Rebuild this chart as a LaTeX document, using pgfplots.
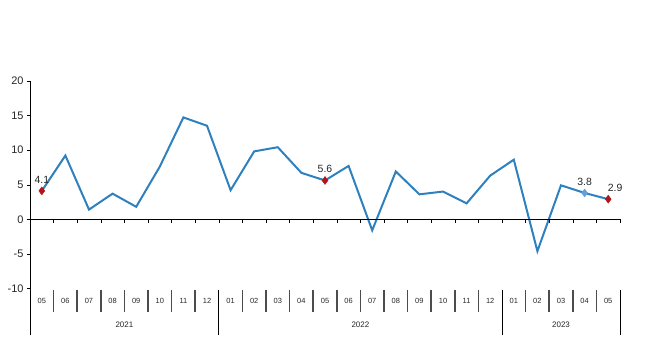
\documentclass[border=0pt]{standalone}
\usepackage{fontspec}
\setmainfont{Liberation Sans}
\usepackage{pgfplots}
\pgfplotsset{compat=1.18}
\definecolor{lineblue}{RGB}{46,128,190}
\definecolor{mred}{RGB}{178,20,28}
\definecolor{mlblue}{RGB}{100,160,220}
\begin{document}
\begin{tikzpicture}
\begin{axis}[
  scale only axis, width=590bp, height=254.3bp,
  at={(0,0)}, anchor=south west,
  xmin=-0.5, xmax=24.5, ymin=-16.7, ymax=20,
  axis x line=none, axis y line=left,
  y axis line style={-, black},
  ytick={-10,-5,0,5,10,15,20},
  tick align=outside, major tick length=3bp,
  ytick style={black},
  yticklabel style={font=\fontsize{11}{13}\selectfont, text=black!85},
  /pgf/number format/assume math mode=true,
  /pgf/number format/fixed, /pgf/number format/precision=1,
  clip=false,
]
\addplot[lineblue, line width=2bp, mark=none] coordinates {
(0,4.1) (1,9.2) (2,1.4) (3,3.7) (4,1.8) (5,7.6) (6,14.7) (7,13.5)
(8,4.2) (9,9.8) (10,10.4) (11,6.7) (12,5.6) (13,7.7) (14,-1.6) (15,6.9)
(16,3.6) (17,4.0) (18,2.3) (19,6.3) (20,8.6) (21,-4.6) (22,4.9) (23,3.8) (24,2.9)};
\addplot[only marks, mark=diamond*, mark size=4bp, color=mred,
  nodes near coords, nodes near coords align={above},
  every node near coord/.append style={font=\fontsize{10.5}{12}\selectfont, text=black!85, yshift=4bp}]
  coordinates {(0,4.1) (12,5.6)};
\addplot[only marks, mark=diamond*, mark size=4bp, color=mred,
  nodes near coords, nodes near coords align={above},
  every node near coord/.append style={font=\fontsize{10.5}{12}\selectfont, text=black!85, yshift=4bp, xshift=7bp}]
  coordinates {(24,2.9)};
\addplot[only marks, mark=diamond*, mark size=4bp, color=mlblue,
  nodes near coords, nodes near coords align={above},
  every node near coord/.append style={font=\fontsize{10.5}{12}\selectfont, text=black!85, yshift=4bp}]
  coordinates {(23,3.8)};
% zero line and ticks
\draw[black] (axis cs:-0.5,0) -- (axis cs:24.5,0);
\pgfplotsinvokeforeach{0.5,1.5,...,24.5}{\draw[black] (axis cs:#1,0) -- (axis cs:#1,-0.6);}
% month separators
\pgfplotsinvokeforeach{0.5,1.5,2.5,3.5,4.5,5.5,6.5,8.5,9.5,10.5,11.5,12.5,13.5,14.5,15.5,16.5,17.5,18.5,20.5,21.5,22.5,23.5}{\draw[black!70, line width=1.5bp] (axis cs:#1,-10.2) -- (axis cs:#1,-13.4);}
% year separators
\pgfplotsinvokeforeach{7.5,19.5,24.5}{\draw[black, line width=0.9bp] (axis cs:#1,-10.2) -- (axis cs:#1,-16.7);}
% month labels
\pgfplotsinvokeforeach{0/05,1/06,2/07,3/08,4/09,5/10,6/11,7/12,8/01,9/02,10/03,11/04,12/05,13/06,14/07,15/08,16/09,17/10,18/11,19/12,20/01,21/02,22/03,23/04,24/05}{%
  \pgfplotsextra{\foreach \i/\m in {#1}{\node[font=\fontsize{7.5}{9}\selectfont, text=black!85] at (axis cs:\i,-11.75) {\m};}}}
\node[font=\fontsize{8}{10}\selectfont, text=black!85] at (axis cs:3.5,-15.25) {2021};
\node[font=\fontsize{8}{10}\selectfont, text=black!85] at (axis cs:13.5,-15.25) {2022};
\node[font=\fontsize{8}{10}\selectfont, text=black!85] at (axis cs:22,-15.25) {2023};
\end{axis}
\pgfresetboundingbox
\path[use as bounding box] (-30bp,-10bp) rectangle (617bp,335bp);
\end{tikzpicture}
\end{document}
